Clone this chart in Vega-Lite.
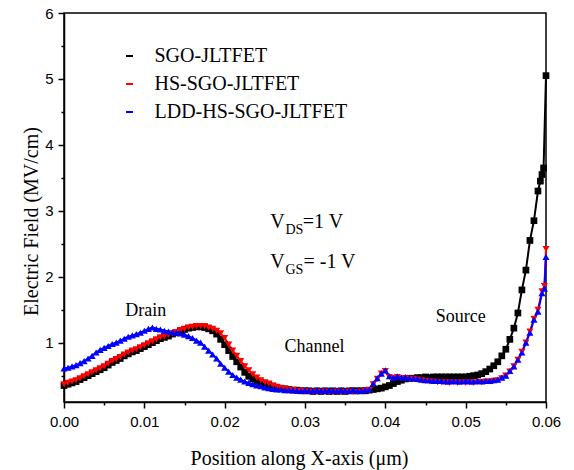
{
  "$schema": "https://vega.github.io/schema/vega-lite/v6.json",
  "width": 482,
  "height": 389,
  "autosize": {"type": "none"},
  "padding": {"left": 64, "top": 13, "right": 28, "bottom": 68},
  "background": "white",
  "config": {
    "view": {"stroke": "black", "strokeWidth": 1.5},
    "legend": {
      "title": null, "orient": "none", "legendX": 36, "legendY": 33, "padding": 0,
      "labelFont": "Liberation Serif", "labelFontSize": 20, "labelColor": "black", "labelLimit": 400,
      "symbolSize": 49, "symbolStrokeWidth": 2, "rowPadding": 8,
      "symbolOffset": 19.5, "labelOffset": 15
    }
  },
  "resolve": {"axis": {"x": "independent", "y": "independent"}},
  "datasets": {
    "curves": [
      {"s":"SGO-JLTFET","x":0,"y":0.35},{"s":"SGO-JLTFET","x":0.0005,"y":0.37},{"s":"SGO-JLTFET","x":0.001,"y":0.39},{"s":"SGO-JLTFET","x":0.0015,"y":0.41},{"s":"SGO-JLTFET","x":0.002,"y":0.44},{"s":"SGO-JLTFET","x":0.0025,"y":0.47},{"s":"SGO-JLTFET","x":0.003,"y":0.5},{"s":"SGO-JLTFET","x":0.0035,"y":0.53},{"s":"SGO-JLTFET","x":0.004,"y":0.56},{"s":"SGO-JLTFET","x":0.0045,"y":0.59},{"s":"SGO-JLTFET","x":0.005,"y":0.62},{"s":"SGO-JLTFET","x":0.0055,"y":0.66},{"s":"SGO-JLTFET","x":0.006,"y":0.7},{"s":"SGO-JLTFET","x":0.0065,"y":0.73},{"s":"SGO-JLTFET","x":0.007,"y":0.76},{"s":"SGO-JLTFET","x":0.0075,"y":0.8},{"s":"SGO-JLTFET","x":0.008,"y":0.83},{"s":"SGO-JLTFET","x":0.0085,"y":0.86},{"s":"SGO-JLTFET","x":0.009,"y":0.88},{"s":"SGO-JLTFET","x":0.0095,"y":0.91},{"s":"SGO-JLTFET","x":0.01,"y":0.94},{"s":"SGO-JLTFET","x":0.0105,"y":0.97},{"s":"SGO-JLTFET","x":0.011,"y":1.0},{"s":"SGO-JLTFET","x":0.0115,"y":1.03},{"s":"SGO-JLTFET","x":0.012,"y":1.06},{"s":"SGO-JLTFET","x":0.0125,"y":1.08},{"s":"SGO-JLTFET","x":0.013,"y":1.1},{"s":"SGO-JLTFET","x":0.0135,"y":1.13},{"s":"SGO-JLTFET","x":0.014,"y":1.15},{"s":"SGO-JLTFET","x":0.0145,"y":1.18},{"s":"SGO-JLTFET","x":0.015,"y":1.2},{"s":"SGO-JLTFET","x":0.0155,"y":1.22},{"s":"SGO-JLTFET","x":0.016,"y":1.23},{"s":"SGO-JLTFET","x":0.0165,"y":1.24},{"s":"SGO-JLTFET","x":0.017,"y":1.24},{"s":"SGO-JLTFET","x":0.0175,"y":1.23},{"s":"SGO-JLTFET","x":0.018,"y":1.21},{"s":"SGO-JLTFET","x":0.0185,"y":1.18},{"s":"SGO-JLTFET","x":0.019,"y":1.13},{"s":"SGO-JLTFET","x":0.0195,"y":1.05},{"s":"SGO-JLTFET","x":0.02,"y":0.97},{"s":"SGO-JLTFET","x":0.0205,"y":0.88},{"s":"SGO-JLTFET","x":0.021,"y":0.79},{"s":"SGO-JLTFET","x":0.0215,"y":0.71},{"s":"SGO-JLTFET","x":0.022,"y":0.63},{"s":"SGO-JLTFET","x":0.0225,"y":0.55},{"s":"SGO-JLTFET","x":0.023,"y":0.49},{"s":"SGO-JLTFET","x":0.0235,"y":0.45},{"s":"SGO-JLTFET","x":0.024,"y":0.42},{"s":"SGO-JLTFET","x":0.0245,"y":0.4},{"s":"SGO-JLTFET","x":0.025,"y":0.38},{"s":"SGO-JLTFET","x":0.0255,"y":0.36},{"s":"SGO-JLTFET","x":0.026,"y":0.34},{"s":"SGO-JLTFET","x":0.0265,"y":0.32},{"s":"SGO-JLTFET","x":0.027,"y":0.31},{"s":"SGO-JLTFET","x":0.0275,"y":0.3},{"s":"SGO-JLTFET","x":0.028,"y":0.29},{"s":"SGO-JLTFET","x":0.0285,"y":0.28},{"s":"SGO-JLTFET","x":0.029,"y":0.28},{"s":"SGO-JLTFET","x":0.0295,"y":0.27},{"s":"SGO-JLTFET","x":0.03,"y":0.27},{"s":"SGO-JLTFET","x":0.0305,"y":0.27},{"s":"SGO-JLTFET","x":0.031,"y":0.26},{"s":"SGO-JLTFET","x":0.0315,"y":0.27},{"s":"SGO-JLTFET","x":0.032,"y":0.26},{"s":"SGO-JLTFET","x":0.0325,"y":0.27},{"s":"SGO-JLTFET","x":0.033,"y":0.26},{"s":"SGO-JLTFET","x":0.0335,"y":0.27},{"s":"SGO-JLTFET","x":0.034,"y":0.26},{"s":"SGO-JLTFET","x":0.0345,"y":0.27},{"s":"SGO-JLTFET","x":0.035,"y":0.26},{"s":"SGO-JLTFET","x":0.0355,"y":0.27},{"s":"SGO-JLTFET","x":0.036,"y":0.27},{"s":"SGO-JLTFET","x":0.0365,"y":0.27},{"s":"SGO-JLTFET","x":0.037,"y":0.27},{"s":"SGO-JLTFET","x":0.0375,"y":0.27},{"s":"SGO-JLTFET","x":0.038,"y":0.28},{"s":"SGO-JLTFET","x":0.0385,"y":0.29},{"s":"SGO-JLTFET","x":0.039,"y":0.3},{"s":"SGO-JLTFET","x":0.0395,"y":0.31},{"s":"SGO-JLTFET","x":0.04,"y":0.33},{"s":"SGO-JLTFET","x":0.0405,"y":0.35},{"s":"SGO-JLTFET","x":0.041,"y":0.38},{"s":"SGO-JLTFET","x":0.0415,"y":0.41},{"s":"SGO-JLTFET","x":0.042,"y":0.43},{"s":"SGO-JLTFET","x":0.0425,"y":0.45},{"s":"SGO-JLTFET","x":0.043,"y":0.46},{"s":"SGO-JLTFET","x":0.0435,"y":0.46},{"s":"SGO-JLTFET","x":0.044,"y":0.47},{"s":"SGO-JLTFET","x":0.0445,"y":0.47},{"s":"SGO-JLTFET","x":0.045,"y":0.48},{"s":"SGO-JLTFET","x":0.0455,"y":0.47},{"s":"SGO-JLTFET","x":0.046,"y":0.48},{"s":"SGO-JLTFET","x":0.0465,"y":0.48},{"s":"SGO-JLTFET","x":0.047,"y":0.48},{"s":"SGO-JLTFET","x":0.0475,"y":0.48},{"s":"SGO-JLTFET","x":0.048,"y":0.48},{"s":"SGO-JLTFET","x":0.0485,"y":0.48},{"s":"SGO-JLTFET","x":0.049,"y":0.48},{"s":"SGO-JLTFET","x":0.0495,"y":0.48},{"s":"SGO-JLTFET","x":0.05,"y":0.48},{"s":"SGO-JLTFET","x":0.0505,"y":0.49},{"s":"SGO-JLTFET","x":0.051,"y":0.5},{"s":"SGO-JLTFET","x":0.0515,"y":0.51},{"s":"SGO-JLTFET","x":0.052,"y":0.53},{"s":"SGO-JLTFET","x":0.0525,"y":0.56},{"s":"SGO-JLTFET","x":0.053,"y":0.6},{"s":"SGO-JLTFET","x":0.0535,"y":0.65},{"s":"SGO-JLTFET","x":0.054,"y":0.71},{"s":"SGO-JLTFET","x":0.0545,"y":0.8},{"s":"SGO-JLTFET","x":0.055,"y":0.9},{"s":"SGO-JLTFET","x":0.0555,"y":1.05},{"s":"SGO-JLTFET","x":0.056,"y":1.22},{"s":"SGO-JLTFET","x":0.0565,"y":1.45},{"s":"SGO-JLTFET","x":0.057,"y":1.8},{"s":"SGO-JLTFET","x":0.0575,"y":2.1},{"s":"SGO-JLTFET","x":0.058,"y":2.55},{"s":"SGO-JLTFET","x":0.0585,"y":2.85},{"s":"SGO-JLTFET","x":0.059,"y":3.3},{"s":"SGO-JLTFET","x":0.0593,"y":3.45},{"s":"SGO-JLTFET","x":0.0595,"y":3.55},{"s":"SGO-JLTFET","x":0.0597,"y":3.65},{"s":"SGO-JLTFET","x":0.06,"y":5.05},

      {"s":"HS-SGO-JLTFET","x":0,"y":0.37},{"s":"HS-SGO-JLTFET","x":0.0005,"y":0.39},{"s":"HS-SGO-JLTFET","x":0.001,"y":0.41},{"s":"HS-SGO-JLTFET","x":0.0015,"y":0.43},{"s":"HS-SGO-JLTFET","x":0.002,"y":0.46},{"s":"HS-SGO-JLTFET","x":0.0025,"y":0.49},{"s":"HS-SGO-JLTFET","x":0.003,"y":0.52},{"s":"HS-SGO-JLTFET","x":0.0035,"y":0.55},{"s":"HS-SGO-JLTFET","x":0.004,"y":0.58},{"s":"HS-SGO-JLTFET","x":0.0045,"y":0.61},{"s":"HS-SGO-JLTFET","x":0.005,"y":0.64},{"s":"HS-SGO-JLTFET","x":0.0055,"y":0.68},{"s":"HS-SGO-JLTFET","x":0.006,"y":0.72},{"s":"HS-SGO-JLTFET","x":0.0065,"y":0.75},{"s":"HS-SGO-JLTFET","x":0.007,"y":0.78},{"s":"HS-SGO-JLTFET","x":0.0075,"y":0.82},{"s":"HS-SGO-JLTFET","x":0.008,"y":0.85},{"s":"HS-SGO-JLTFET","x":0.0085,"y":0.88},{"s":"HS-SGO-JLTFET","x":0.009,"y":0.9},{"s":"HS-SGO-JLTFET","x":0.0095,"y":0.93},{"s":"HS-SGO-JLTFET","x":0.01,"y":0.96},{"s":"HS-SGO-JLTFET","x":0.0105,"y":0.99},{"s":"HS-SGO-JLTFET","x":0.011,"y":1.02},{"s":"HS-SGO-JLTFET","x":0.0115,"y":1.05},{"s":"HS-SGO-JLTFET","x":0.012,"y":1.08},{"s":"HS-SGO-JLTFET","x":0.0125,"y":1.1},{"s":"HS-SGO-JLTFET","x":0.013,"y":1.12},{"s":"HS-SGO-JLTFET","x":0.0135,"y":1.14},{"s":"HS-SGO-JLTFET","x":0.014,"y":1.16},{"s":"HS-SGO-JLTFET","x":0.0145,"y":1.19},{"s":"HS-SGO-JLTFET","x":0.015,"y":1.21},{"s":"HS-SGO-JLTFET","x":0.0155,"y":1.23},{"s":"HS-SGO-JLTFET","x":0.016,"y":1.24},{"s":"HS-SGO-JLTFET","x":0.0165,"y":1.25},{"s":"HS-SGO-JLTFET","x":0.017,"y":1.25},{"s":"HS-SGO-JLTFET","x":0.0175,"y":1.25},{"s":"HS-SGO-JLTFET","x":0.018,"y":1.23},{"s":"HS-SGO-JLTFET","x":0.0185,"y":1.21},{"s":"HS-SGO-JLTFET","x":0.019,"y":1.18},{"s":"HS-SGO-JLTFET","x":0.0195,"y":1.14},{"s":"HS-SGO-JLTFET","x":0.02,"y":1.07},{"s":"HS-SGO-JLTFET","x":0.0205,"y":0.97},{"s":"HS-SGO-JLTFET","x":0.021,"y":0.88},{"s":"HS-SGO-JLTFET","x":0.0215,"y":0.8},{"s":"HS-SGO-JLTFET","x":0.022,"y":0.72},{"s":"HS-SGO-JLTFET","x":0.0225,"y":0.64},{"s":"HS-SGO-JLTFET","x":0.023,"y":0.58},{"s":"HS-SGO-JLTFET","x":0.0235,"y":0.52},{"s":"HS-SGO-JLTFET","x":0.024,"y":0.47},{"s":"HS-SGO-JLTFET","x":0.0245,"y":0.43},{"s":"HS-SGO-JLTFET","x":0.025,"y":0.4},{"s":"HS-SGO-JLTFET","x":0.0255,"y":0.38},{"s":"HS-SGO-JLTFET","x":0.026,"y":0.35},{"s":"HS-SGO-JLTFET","x":0.0265,"y":0.33},{"s":"HS-SGO-JLTFET","x":0.027,"y":0.31},{"s":"HS-SGO-JLTFET","x":0.0275,"y":0.3},{"s":"HS-SGO-JLTFET","x":0.028,"y":0.29},{"s":"HS-SGO-JLTFET","x":0.0285,"y":0.28},{"s":"HS-SGO-JLTFET","x":0.029,"y":0.27},{"s":"HS-SGO-JLTFET","x":0.0295,"y":0.27},{"s":"HS-SGO-JLTFET","x":0.03,"y":0.26},{"s":"HS-SGO-JLTFET","x":0.0305,"y":0.26},{"s":"HS-SGO-JLTFET","x":0.031,"y":0.25},{"s":"HS-SGO-JLTFET","x":0.0315,"y":0.26},{"s":"HS-SGO-JLTFET","x":0.032,"y":0.25},{"s":"HS-SGO-JLTFET","x":0.0325,"y":0.26},{"s":"HS-SGO-JLTFET","x":0.033,"y":0.25},{"s":"HS-SGO-JLTFET","x":0.0335,"y":0.25},{"s":"HS-SGO-JLTFET","x":0.034,"y":0.26},{"s":"HS-SGO-JLTFET","x":0.0345,"y":0.25},{"s":"HS-SGO-JLTFET","x":0.035,"y":0.25},{"s":"HS-SGO-JLTFET","x":0.0355,"y":0.26},{"s":"HS-SGO-JLTFET","x":0.036,"y":0.25},{"s":"HS-SGO-JLTFET","x":0.0365,"y":0.25},{"s":"HS-SGO-JLTFET","x":0.037,"y":0.26},{"s":"HS-SGO-JLTFET","x":0.0375,"y":0.26},{"s":"HS-SGO-JLTFET","x":0.038,"y":0.28},{"s":"HS-SGO-JLTFET","x":0.0385,"y":0.37},{"s":"HS-SGO-JLTFET","x":0.039,"y":0.45},{"s":"HS-SGO-JLTFET","x":0.0395,"y":0.53},{"s":"HS-SGO-JLTFET","x":0.04,"y":0.57},{"s":"HS-SGO-JLTFET","x":0.0405,"y":0.48},{"s":"HS-SGO-JLTFET","x":0.041,"y":0.46},{"s":"HS-SGO-JLTFET","x":0.0415,"y":0.48},{"s":"HS-SGO-JLTFET","x":0.042,"y":0.46},{"s":"HS-SGO-JLTFET","x":0.0425,"y":0.46},{"s":"HS-SGO-JLTFET","x":0.043,"y":0.45},{"s":"HS-SGO-JLTFET","x":0.0435,"y":0.45},{"s":"HS-SGO-JLTFET","x":0.044,"y":0.44},{"s":"HS-SGO-JLTFET","x":0.0445,"y":0.43},{"s":"HS-SGO-JLTFET","x":0.045,"y":0.42},{"s":"HS-SGO-JLTFET","x":0.0455,"y":0.41},{"s":"HS-SGO-JLTFET","x":0.046,"y":0.41},{"s":"HS-SGO-JLTFET","x":0.0465,"y":0.4},{"s":"HS-SGO-JLTFET","x":0.047,"y":0.4},{"s":"HS-SGO-JLTFET","x":0.0475,"y":0.4},{"s":"HS-SGO-JLTFET","x":0.048,"y":0.39},{"s":"HS-SGO-JLTFET","x":0.0485,"y":0.4},{"s":"HS-SGO-JLTFET","x":0.049,"y":0.39},{"s":"HS-SGO-JLTFET","x":0.0495,"y":0.4},{"s":"HS-SGO-JLTFET","x":0.05,"y":0.39},{"s":"HS-SGO-JLTFET","x":0.0505,"y":0.4},{"s":"HS-SGO-JLTFET","x":0.051,"y":0.39},{"s":"HS-SGO-JLTFET","x":0.0515,"y":0.4},{"s":"HS-SGO-JLTFET","x":0.052,"y":0.4},{"s":"HS-SGO-JLTFET","x":0.0525,"y":0.41},{"s":"HS-SGO-JLTFET","x":0.053,"y":0.41},{"s":"HS-SGO-JLTFET","x":0.0535,"y":0.42},{"s":"HS-SGO-JLTFET","x":0.054,"y":0.43},{"s":"HS-SGO-JLTFET","x":0.0545,"y":0.46},{"s":"HS-SGO-JLTFET","x":0.055,"y":0.5},{"s":"HS-SGO-JLTFET","x":0.0555,"y":0.56},{"s":"HS-SGO-JLTFET","x":0.056,"y":0.64},{"s":"HS-SGO-JLTFET","x":0.0565,"y":0.74},{"s":"HS-SGO-JLTFET","x":0.057,"y":0.86},{"s":"HS-SGO-JLTFET","x":0.0575,"y":1.0},{"s":"HS-SGO-JLTFET","x":0.058,"y":1.17},{"s":"HS-SGO-JLTFET","x":0.0585,"y":1.36},{"s":"HS-SGO-JLTFET","x":0.059,"y":1.5},{"s":"HS-SGO-JLTFET","x":0.0595,"y":1.78},{"s":"HS-SGO-JLTFET","x":0.0598,"y":1.86},{"s":"HS-SGO-JLTFET","x":0.06,"y":2.42},

      {"s":"LDD-HS-SGO-JLTFET","x":0,"y":0.61},{"s":"LDD-HS-SGO-JLTFET","x":0.0005,"y":0.62},{"s":"LDD-HS-SGO-JLTFET","x":0.001,"y":0.64},{"s":"LDD-HS-SGO-JLTFET","x":0.0015,"y":0.66},{"s":"LDD-HS-SGO-JLTFET","x":0.002,"y":0.69},{"s":"LDD-HS-SGO-JLTFET","x":0.0025,"y":0.72},{"s":"LDD-HS-SGO-JLTFET","x":0.003,"y":0.76},{"s":"LDD-HS-SGO-JLTFET","x":0.0035,"y":0.8},{"s":"LDD-HS-SGO-JLTFET","x":0.004,"y":0.85},{"s":"LDD-HS-SGO-JLTFET","x":0.0045,"y":0.89},{"s":"LDD-HS-SGO-JLTFET","x":0.005,"y":0.92},{"s":"LDD-HS-SGO-JLTFET","x":0.0055,"y":0.95},{"s":"LDD-HS-SGO-JLTFET","x":0.006,"y":0.98},{"s":"LDD-HS-SGO-JLTFET","x":0.0065,"y":1.0},{"s":"LDD-HS-SGO-JLTFET","x":0.007,"y":1.03},{"s":"LDD-HS-SGO-JLTFET","x":0.0075,"y":1.06},{"s":"LDD-HS-SGO-JLTFET","x":0.008,"y":1.09},{"s":"LDD-HS-SGO-JLTFET","x":0.0085,"y":1.11},{"s":"LDD-HS-SGO-JLTFET","x":0.009,"y":1.13},{"s":"LDD-HS-SGO-JLTFET","x":0.0095,"y":1.15},{"s":"LDD-HS-SGO-JLTFET","x":0.01,"y":1.18},{"s":"LDD-HS-SGO-JLTFET","x":0.0105,"y":1.21},{"s":"LDD-HS-SGO-JLTFET","x":0.011,"y":1.23},{"s":"LDD-HS-SGO-JLTFET","x":0.0115,"y":1.21},{"s":"LDD-HS-SGO-JLTFET","x":0.012,"y":1.2},{"s":"LDD-HS-SGO-JLTFET","x":0.0125,"y":1.18},{"s":"LDD-HS-SGO-JLTFET","x":0.013,"y":1.17},{"s":"LDD-HS-SGO-JLTFET","x":0.0135,"y":1.16},{"s":"LDD-HS-SGO-JLTFET","x":0.014,"y":1.15},{"s":"LDD-HS-SGO-JLTFET","x":0.0145,"y":1.14},{"s":"LDD-HS-SGO-JLTFET","x":0.015,"y":1.12},{"s":"LDD-HS-SGO-JLTFET","x":0.0155,"y":1.1},{"s":"LDD-HS-SGO-JLTFET","x":0.016,"y":1.07},{"s":"LDD-HS-SGO-JLTFET","x":0.0165,"y":1.03},{"s":"LDD-HS-SGO-JLTFET","x":0.017,"y":1.0},{"s":"LDD-HS-SGO-JLTFET","x":0.0175,"y":0.94},{"s":"LDD-HS-SGO-JLTFET","x":0.018,"y":0.88},{"s":"LDD-HS-SGO-JLTFET","x":0.0185,"y":0.82},{"s":"LDD-HS-SGO-JLTFET","x":0.019,"y":0.76},{"s":"LDD-HS-SGO-JLTFET","x":0.0195,"y":0.68},{"s":"LDD-HS-SGO-JLTFET","x":0.02,"y":0.62},{"s":"LDD-HS-SGO-JLTFET","x":0.0205,"y":0.56},{"s":"LDD-HS-SGO-JLTFET","x":0.021,"y":0.51},{"s":"LDD-HS-SGO-JLTFET","x":0.0215,"y":0.47},{"s":"LDD-HS-SGO-JLTFET","x":0.022,"y":0.44},{"s":"LDD-HS-SGO-JLTFET","x":0.0225,"y":0.41},{"s":"LDD-HS-SGO-JLTFET","x":0.023,"y":0.39},{"s":"LDD-HS-SGO-JLTFET","x":0.0235,"y":0.37},{"s":"LDD-HS-SGO-JLTFET","x":0.024,"y":0.35},{"s":"LDD-HS-SGO-JLTFET","x":0.0245,"y":0.34},{"s":"LDD-HS-SGO-JLTFET","x":0.025,"y":0.32},{"s":"LDD-HS-SGO-JLTFET","x":0.0255,"y":0.31},{"s":"LDD-HS-SGO-JLTFET","x":0.026,"y":0.3},{"s":"LDD-HS-SGO-JLTFET","x":0.0265,"y":0.29},{"s":"LDD-HS-SGO-JLTFET","x":0.027,"y":0.29},{"s":"LDD-HS-SGO-JLTFET","x":0.0275,"y":0.28},{"s":"LDD-HS-SGO-JLTFET","x":0.028,"y":0.28},{"s":"LDD-HS-SGO-JLTFET","x":0.0285,"y":0.28},{"s":"LDD-HS-SGO-JLTFET","x":0.029,"y":0.27},{"s":"LDD-HS-SGO-JLTFET","x":0.0295,"y":0.27},{"s":"LDD-HS-SGO-JLTFET","x":0.03,"y":0.28},{"s":"LDD-HS-SGO-JLTFET","x":0.0305,"y":0.27},{"s":"LDD-HS-SGO-JLTFET","x":0.031,"y":0.27},{"s":"LDD-HS-SGO-JLTFET","x":0.0315,"y":0.28},{"s":"LDD-HS-SGO-JLTFET","x":0.032,"y":0.27},{"s":"LDD-HS-SGO-JLTFET","x":0.0325,"y":0.27},{"s":"LDD-HS-SGO-JLTFET","x":0.033,"y":0.28},{"s":"LDD-HS-SGO-JLTFET","x":0.0335,"y":0.27},{"s":"LDD-HS-SGO-JLTFET","x":0.034,"y":0.27},{"s":"LDD-HS-SGO-JLTFET","x":0.0345,"y":0.28},{"s":"LDD-HS-SGO-JLTFET","x":0.035,"y":0.27},{"s":"LDD-HS-SGO-JLTFET","x":0.0355,"y":0.27},{"s":"LDD-HS-SGO-JLTFET","x":0.036,"y":0.28},{"s":"LDD-HS-SGO-JLTFET","x":0.0365,"y":0.27},{"s":"LDD-HS-SGO-JLTFET","x":0.037,"y":0.27},{"s":"LDD-HS-SGO-JLTFET","x":0.0375,"y":0.28},{"s":"LDD-HS-SGO-JLTFET","x":0.038,"y":0.29},{"s":"LDD-HS-SGO-JLTFET","x":0.0385,"y":0.38},{"s":"LDD-HS-SGO-JLTFET","x":0.039,"y":0.46},{"s":"LDD-HS-SGO-JLTFET","x":0.0395,"y":0.53},{"s":"LDD-HS-SGO-JLTFET","x":0.04,"y":0.58},{"s":"LDD-HS-SGO-JLTFET","x":0.0405,"y":0.49},{"s":"LDD-HS-SGO-JLTFET","x":0.041,"y":0.47},{"s":"LDD-HS-SGO-JLTFET","x":0.0415,"y":0.49},{"s":"LDD-HS-SGO-JLTFET","x":0.042,"y":0.47},{"s":"LDD-HS-SGO-JLTFET","x":0.0425,"y":0.48},{"s":"LDD-HS-SGO-JLTFET","x":0.043,"y":0.46},{"s":"LDD-HS-SGO-JLTFET","x":0.0435,"y":0.46},{"s":"LDD-HS-SGO-JLTFET","x":0.044,"y":0.45},{"s":"LDD-HS-SGO-JLTFET","x":0.0445,"y":0.44},{"s":"LDD-HS-SGO-JLTFET","x":0.045,"y":0.43},{"s":"LDD-HS-SGO-JLTFET","x":0.0455,"y":0.43},{"s":"LDD-HS-SGO-JLTFET","x":0.046,"y":0.42},{"s":"LDD-HS-SGO-JLTFET","x":0.0465,"y":0.42},{"s":"LDD-HS-SGO-JLTFET","x":0.047,"y":0.42},{"s":"LDD-HS-SGO-JLTFET","x":0.0475,"y":0.41},{"s":"LDD-HS-SGO-JLTFET","x":0.048,"y":0.41},{"s":"LDD-HS-SGO-JLTFET","x":0.0485,"y":0.42},{"s":"LDD-HS-SGO-JLTFET","x":0.049,"y":0.41},{"s":"LDD-HS-SGO-JLTFET","x":0.0495,"y":0.41},{"s":"LDD-HS-SGO-JLTFET","x":0.05,"y":0.42},{"s":"LDD-HS-SGO-JLTFET","x":0.0505,"y":0.41},{"s":"LDD-HS-SGO-JLTFET","x":0.051,"y":0.41},{"s":"LDD-HS-SGO-JLTFET","x":0.0515,"y":0.42},{"s":"LDD-HS-SGO-JLTFET","x":0.052,"y":0.41},{"s":"LDD-HS-SGO-JLTFET","x":0.0525,"y":0.42},{"s":"LDD-HS-SGO-JLTFET","x":0.053,"y":0.42},{"s":"LDD-HS-SGO-JLTFET","x":0.0535,"y":0.43},{"s":"LDD-HS-SGO-JLTFET","x":0.054,"y":0.44},{"s":"LDD-HS-SGO-JLTFET","x":0.0545,"y":0.47},{"s":"LDD-HS-SGO-JLTFET","x":0.055,"y":0.5},{"s":"LDD-HS-SGO-JLTFET","x":0.0555,"y":0.57},{"s":"LDD-HS-SGO-JLTFET","x":0.056,"y":0.64},{"s":"LDD-HS-SGO-JLTFET","x":0.0565,"y":0.74},{"s":"LDD-HS-SGO-JLTFET","x":0.057,"y":0.85},{"s":"LDD-HS-SGO-JLTFET","x":0.0575,"y":1.0},{"s":"LDD-HS-SGO-JLTFET","x":0.058,"y":1.15},{"s":"LDD-HS-SGO-JLTFET","x":0.0585,"y":1.35},{"s":"LDD-HS-SGO-JLTFET","x":0.059,"y":1.47},{"s":"LDD-HS-SGO-JLTFET","x":0.0595,"y":1.75},{"s":"LDD-HS-SGO-JLTFET","x":0.0598,"y":1.82},{"s":"LDD-HS-SGO-JLTFET","x":0.06,"y":2.3}
    ],
    "labels": [
      {"t":"Drain","x":0.01017,"y":1.407},
      {"t":"Channel","x":0.03118,"y":0.856},
      {"t":"Source","x":0.04938,"y":1.32}
    ],
    "vmain": [
      {"t":"V","x":0.02567,"y":2.738},
      {"t":"=1 V","x":0.02973,"y":2.738},
      {"t":"V","x":0.02567,"y":2.131},
      {"t":"= -1 V","x":0.02981,"y":2.131}
    ],
    "vsub": [
      {"t":"DS","x":0.02757,"y":2.651},
      {"t":"GS","x":0.02757,"y":2.045}
    ]
  },
  "layer": [
    {
      "data": {"name": "curves"},
      "mark": {"type": "line", "strokeWidth": 2},
      "encoding": {
        "x": {
          "field": "x", "type": "quantitative",
          "scale": {"domain": [0, 0.06], "nice": false, "zero": false},
          "axis": {
            "title": "Position along X-axis (μm)", "orient": "bottom",
            "values": [0,0.01,0.02,0.03,0.04,0.05,0.06],
            "format": ".2f",
            "labelFlush": false, "labelOverlap": false,
            "labelFont": "Liberation Sans", "labelFontSize": 15, "labelColor": "black",
            "labelPadding": 6,
            "tickSize": 6, "tickWidth": 1.5, "tickColor": "black",
            "domainColor": "black", "domainWidth": 1.5, "grid": false,
            "titleFont": "Liberation Serif", "titleFontSize": 20, "titleFontWeight": "normal", "titleColor": "black",
            "titleX": 235, "titleY": 62, "titleBaseline": "alphabetic", "titleAnchor": "middle", "titleAlign": "center"
          }
        },
        "y": {
          "field": "y", "type": "quantitative",
          "scale": {"domain": [0.1, 6], "nice": false, "zero": false},
          "axis": {
            "title": "Electric Field (MV/cm)", "orient": "left",
            "values": [1,2,3,4,5,6],
            "format": "d",
            "labelFlush": false, "labelOverlap": false,
            "labelFont": "Liberation Sans", "labelFontSize": 15, "labelColor": "black",
            "labelPadding": 5,
            "tickSize": 6, "tickWidth": 1.5, "tickColor": "black",
            "domainColor": "black", "domainWidth": 1.5, "grid": false,
            "titleFont": "Liberation Serif", "titleFontSize": 20, "titleFontWeight": "normal", "titleColor": "black",
            "titleX": -27, "titleY": 208, "titleBaseline": "alphabetic", "titleAlign": "center", "titleAngle": 270
          }
        },
        "color": {
          "field": "s", "type": "nominal",
          "scale": {"domain": ["SGO-JLTFET","HS-SGO-JLTFET","LDD-HS-SGO-JLTFET"], "range": ["#000000","#ff0000","#0000ff"]}
        }
      }
    },
    {
      "data": {"name": "curves"},
      "transform": [{"filter": "datum.s=='SGO-JLTFET'"}],
      "mark": {"type": "point", "shape": "square", "filled": true, "opacity": 1, "size": 45},
      "encoding": {
        "x": {"field": "x", "type": "quantitative", "axis": null},
        "y": {"field": "y", "type": "quantitative", "axis": null},
        "color": {"field": "s", "type": "nominal", "legend": {
          "encode": {"symbols": {
            "shape": {"signal": "datum.value=='SGO-JLTFET' ? 'M-6.6,0H6.6M-0.8,-0.8H0.8V0.8H-0.8Z' : datum.value=='HS-SGO-JLTFET' ? 'M-6.6,0H6.6M-1,-0.8L1,-0.8L0,0.9Z' : 'M-6.6,0H6.6M-1,0.8L1,0.8L0,-0.9Z'"},
            "stroke": {"signal": "datum.value=='SGO-JLTFET' ? '#000000' : datum.value=='HS-SGO-JLTFET' ? '#ff0000' : '#0000ff'"},
            "size": {"value": 49},
            "strokeWidth": {"value": 2},
            "opacity": {"value": 1}
          }}
        }}
      }
    },
    {
      "data": {"name": "curves"},
      "transform": [{"filter": "datum.s=='HS-SGO-JLTFET'"}],
      "mark": {"type": "point", "shape": "triangle-down", "filled": true, "opacity": 1, "size": 50},
      "encoding": {
        "x": {"field": "x", "type": "quantitative", "axis": null},
        "y": {"field": "y", "type": "quantitative", "axis": null},
        "color": {"field": "s", "type": "nominal", "legend": {
          "encode": {"symbols": {
            "shape": {"signal": "datum.value=='SGO-JLTFET' ? 'M-6.6,0H6.6M-0.8,-0.8H0.8V0.8H-0.8Z' : datum.value=='HS-SGO-JLTFET' ? 'M-6.6,0H6.6M-1,-0.8L1,-0.8L0,0.9Z' : 'M-6.6,0H6.6M-1,0.8L1,0.8L0,-0.9Z'"},
            "stroke": {"signal": "datum.value=='SGO-JLTFET' ? '#000000' : datum.value=='HS-SGO-JLTFET' ? '#ff0000' : '#0000ff'"},
            "size": {"value": 49},
            "strokeWidth": {"value": 2},
            "opacity": {"value": 1}
          }}
        }}
      }
    },
    {
      "data": {"name": "curves"},
      "transform": [{"filter": "datum.s=='LDD-HS-SGO-JLTFET'"}],
      "mark": {"type": "point", "shape": "triangle-up", "filled": true, "opacity": 1, "size": 50},
      "encoding": {
        "x": {"field": "x", "type": "quantitative", "axis": null},
        "y": {"field": "y", "type": "quantitative", "axis": null},
        "color": {"field": "s", "type": "nominal", "legend": {
          "encode": {"symbols": {
            "shape": {"signal": "datum.value=='SGO-JLTFET' ? 'M-6.6,0H6.6M-0.8,-0.8H0.8V0.8H-0.8Z' : datum.value=='HS-SGO-JLTFET' ? 'M-6.6,0H6.6M-1,-0.8L1,-0.8L0,0.9Z' : 'M-6.6,0H6.6M-1,0.8L1,0.8L0,-0.9Z'"},
            "stroke": {"signal": "datum.value=='SGO-JLTFET' ? '#000000' : datum.value=='HS-SGO-JLTFET' ? '#ff0000' : '#0000ff'"},
            "size": {"value": 49},
            "strokeWidth": {"value": 2},
            "opacity": {"value": 1}
          }}
        }}
      }
    },
    {
      "data": {"name": "labels"},
      "mark": {"type": "text", "font": "Liberation Serif", "fontSize": 18, "align": "center", "baseline": "alphabetic", "color": "black"},
      "encoding": {
        "x": {"field": "x", "type": "quantitative", "axis": {
          "orient": "bottom",
          "values": [0.005,0.015,0.025,0.035,0.045,0.055], "labels": false, "domain": false, "grid": false,
          "tickSize": 3, "tickWidth": 1.5, "tickColor": "black", "title": null
        }},
        "y": {"field": "y", "type": "quantitative", "axis": {
          "orient": "left",
          "values": [0.5,1.5,2.5,3.5,4.5,5.5], "labels": false, "domain": false, "grid": false,
          "tickSize": 3, "tickWidth": 1.5, "tickColor": "black", "title": null
        }},
        "text": {"field": "t"}
      }
    },
    {
      "data": {"name": "vmain"},
      "mark": {"type": "text", "font": "Liberation Serif", "fontSize": 20, "align": "left", "baseline": "alphabetic", "color": "black"},
      "encoding": {
        "x": {"field": "x", "type": "quantitative", "axis": null},
        "y": {"field": "y", "type": "quantitative", "axis": null},
        "text": {"field": "t"}
      }
    },
    {
      "data": {"name": "vsub"},
      "mark": {"type": "text", "font": "Liberation Serif", "fontSize": 14, "align": "left", "baseline": "alphabetic", "color": "black"},
      "encoding": {
        "x": {"field": "x", "type": "quantitative", "axis": null},
        "y": {"field": "y", "type": "quantitative", "axis": null},
        "text": {"field": "t"}
      }
    }
  ]
}
